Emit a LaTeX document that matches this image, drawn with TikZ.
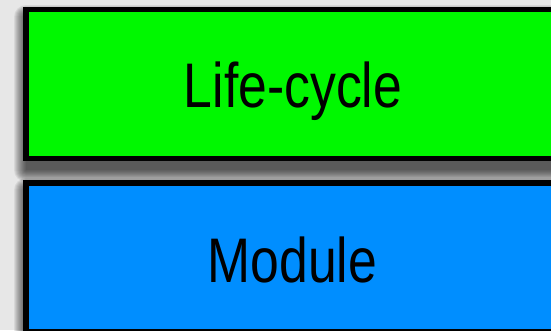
\documentclass[tikz,border=0pt]{standalone}
\usepackage{fontspec}
\newfontfamily\condfont[FakeStretch=0.82]{Liberation Sans}
\definecolor{bggray}{HTML}{E7E7E7}
\definecolor{boxgreen}{HTML}{00F800}
\definecolor{boxblue}{HTML}{008EFF}
\tikzset{
  panel/.style={draw=black, line width=5.5pt, minimum width=534pt, minimum height=149pt,
    inner sep=0pt, outer sep=0pt},
  shadowlayer/.style={fill=black, fill opacity=0.065, draw=none},
  label/.style={font=\condfont\fontsize{63}{70}\selectfont, text=black, inner sep=0pt}
}
\begin{document}
\begin{tikzpicture}[x=1pt,y=-1pt]
\fill[bggray] (0,0) rectangle (551,330);
\useasboundingbox (0,0) rectangle (551,330);
% soft shadows, shifted down
\foreach \r in {0,1,...,12}{
  \fill[shadowlayer, rounded corners=\r pt] (23-\r+3, 7+10-\r) rectangle (562+\r, 161+9+\r);
}
\node[panel, fill=boxgreen] (life) at (293,84) {};
\foreach \r in {0,1,...,12}{
  \fill[shadowlayer, rounded corners=\r pt] (23-\r+3, 180+10-\r) rectangle (562+\r, 340+\r);
}
\node[panel, fill=boxblue] (mod) at (293,257.5) {};
\node[label, anchor=base] (lifetext) at (293,107) {Life-cycle};
\node[label, anchor=base] (modtext) at (292.5,282) {Module};
\end{tikzpicture}
\end{document}
